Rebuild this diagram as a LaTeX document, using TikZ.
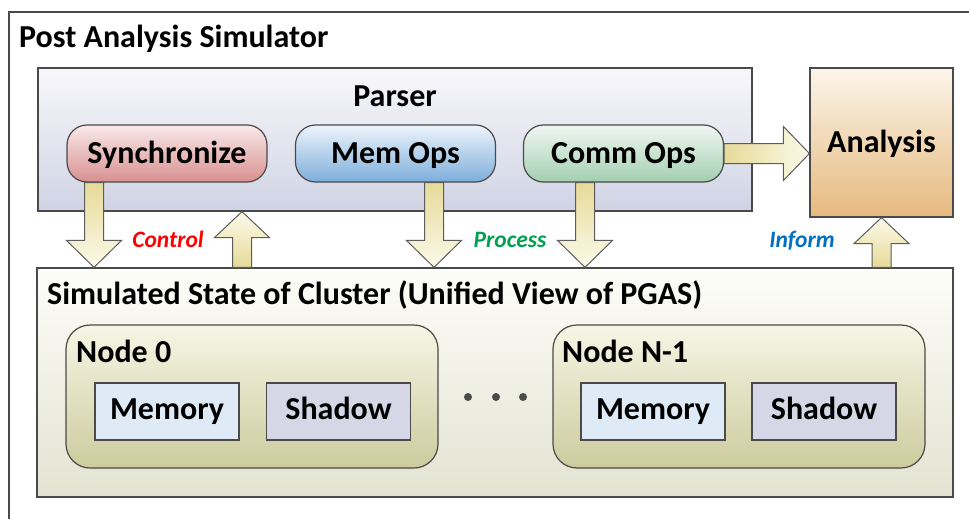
\documentclass[tikz,border=0pt]{standalone}
\usepackage{fontspec}
\setmainfont{Carlito}
\usetikzlibrary{calc}

\definecolor{frameline}{HTML}{4A4A4A}
\definecolor{arrdark}{HTML}{E6DA98}
\definecolor{arrlight}{HTML}{FCFAEA}
\definecolor{ctlred}{HTML}{FF0000}
\definecolor{procgreen}{HTML}{00A050}
\definecolor{infoblue}{HTML}{0070C0}
\definecolor{parserT}{HTML}{F8F8FB}
\definecolor{parserB}{HTML}{D0D3E4}
\definecolor{syncT}{HTML}{FAE9E9}
\definecolor{syncB}{HTML}{D89090}
\definecolor{memT}{HTML}{EDF4FB}
\definecolor{memB}{HTML}{7EAEDB}
\definecolor{commT}{HTML}{F0F7F2}
\definecolor{commB}{HTML}{A3CFB0}
\definecolor{anaT}{HTML}{FDF5EA}
\definecolor{anaB}{HTML}{E5B97E}
\definecolor{clT}{HTML}{FDFDF9}
\definecolor{clB}{HTML}{E2E3D1}
\definecolor{ndT}{HTML}{F6F6E6}
\definecolor{ndB}{HTML}{CDCB9D}
\definecolor{memcell}{HTML}{DEEBF7}
\definecolor{shdcell}{HTML}{D6D6E6}

\tikzset{
  bigfont/.style={font=\bfseries\fontsize{32}{36}\selectfont},
  panel/.style={draw=frameline, line width=1.2pt, inner sep=0pt},
  opbox/.style={panel, bigfont, rounded corners=20pt, minimum width=200pt, minimum height=57pt,
                text height=20.6pt, text depth=0pt},
  nodebox/.style={panel, rounded corners=24pt, minimum width=372pt, minimum height=143pt,
                  top color=ndT, bottom color=ndB},
  cell/.style={panel, bigfont, minimum width=144pt, minimum height=57pt,
               text height=18.6pt, text depth=2pt},
  heading/.style={bigfont, inner sep=0pt},
  centred/.style={heading, text height=20.6pt, text depth=0pt},
  flowlabel/.style={font=\bfseries\itshape\fontsize{23.5}{26}\selectfont, inner sep=0pt,
                    text height=15.1pt, text depth=0pt},
  blockar/.style={draw=frameline!90, line width=1pt, line join=miter},
}

% Block arrow pointing down from point #1 to the level of point #2
\newcommand\blockdown[2]{%
  \draw[blockar, top color=arrdark, bottom color=arrlight] let \p1=#1, \p2=#2 in
    (\x1-9.5pt,\y1) -- (\x1-9.5pt,\y2+27pt) -- (\x1-27.5pt,\y2+27pt) -- (\x1,\y2)
    -- (\x1+27.5pt,\y2+27pt) -- (\x1+9.5pt,\y2+27pt) -- (\x1+9.5pt,\y1) -- cycle;}
% Block arrow pointing up from point #1 to the level of point #2
\newcommand\blockup[2]{%
  \draw[blockar, bottom color=arrdark, top color=arrlight] let \p1=#1, \p2=#2 in
    (\x1-9.5pt,\y1) -- (\x1-9.5pt,\y2-26pt) -- (\x1-27.5pt,\y2-26pt) -- (\x1,\y2)
    -- (\x1+27.5pt,\y2-26pt) -- (\x1+9.5pt,\y2-26pt) -- (\x1+9.5pt,\y1) -- cycle;}
% Block arrow pointing right from point #1 to the edge point #2
\newcommand\blockright[2]{%
  \draw[blockar, left color=arrdark, right color=arrlight] let \p1=#1, \p2=#2 in
    (\x1,\y1+10pt) -- (\x2-26pt,\y1+10pt) -- (\x2-26pt,\y1+27pt) -- (\x2,\y1)
    -- (\x2-26pt,\y1-27pt) -- (\x2-26pt,\y1-10pt) -- (\x1,\y1-10pt) -- cycle;}

\begin{document}
\begin{tikzpicture}[x=1pt, y=-1pt]
\useasboundingbox (0,0) rectangle (969,519);
\clip (0,0) rectangle (969,519);

% outer frame, running off the right and bottom edges
\draw[frameline, line width=1.5pt, fill=white] (9,12) rectangle (985,540);
\node[heading, anchor=base west] (title) at (19,48) {Post Analysis Simulator};

% parser panel with its three operation boxes
\node[panel, minimum width=714pt, minimum height=143pt, top color=parserT,
      bottom color=parserB] (parser) at (395,139.5) {};
\node[centred] (parsertitle) at (395,96) {Parser};
\node[opbox, top color=syncT, bottom color=syncB] (sync) at (167,153.5) {Synchronize};
\node[opbox, top color=memT, bottom color=memB] (memops) at (395.5,153.5) {Mem Ops};
\node[opbox, top color=commT, bottom color=commB] (commops) at (623.5,153.5) {Comm Ops};

% analysis block
\node[panel, minimum width=143pt, minimum height=149pt, top color=anaT,
      bottom color=anaB] (analysis) at (881.5,142.5) {};
\node[centred] (analysistitle) at (881.5,142.5) {Analysis};

% simulated cluster state
\node[panel, minimum width=916pt, minimum height=229pt, top color=clT,
      bottom color=clB] (cluster) at (495,382.5) {};
\node[heading, anchor=base west] (clustertitle) at (47,304)
  {Simulated State of Cluster (Unified View of PGAS)};

\node[nodebox] (n0) at (252,396.5) {};
\node[heading, anchor=base west] (n0title) at (76,362) {Node 0};
\node[cell, fill=memcell] (mem0) at (167,411.5) {Memory};
\node[cell, fill=shdcell] (shd0) at (338.5,411.5) {Shadow};

\node[nodebox] (n1) at (739,396.5) {};
\node[heading, anchor=base west] (n1title) at (562,362) {Node N-1};
\node[cell, fill=memcell] (mem1) at (653,411.5) {Memory};
\node[cell, fill=shdcell] (shd1) at (824,411.5) {Shadow};

\foreach \dx in {468,496,523}
  \fill[frameline] (\dx,397) circle (4pt);

% data flow
\blockdown{([xshift=-73pt]sync.south)}{(cluster.north)}
\blockup{([xshift=75pt]sync.south |- cluster.north)}{(parser.south)}
\blockdown{([xshift=38.5pt]memops.south)}{(cluster.north)}
\blockdown{([xshift=-38.5pt]commops.south)}{(cluster.north)}
\blockup{(analysis.south |- cluster.north)}{(analysis.south)}
\blockright{(commops.east)}{(analysis.west |- commops.east)}

\node[flowlabel, text=ctlred] (ctl) at (168,240) {Control};
\node[flowlabel, text=procgreen] (proc) at (510,240) {Process};
\node[flowlabel, text=infoblue] (info) at (802,240) {Inform};
\end{tikzpicture}
\end{document}
